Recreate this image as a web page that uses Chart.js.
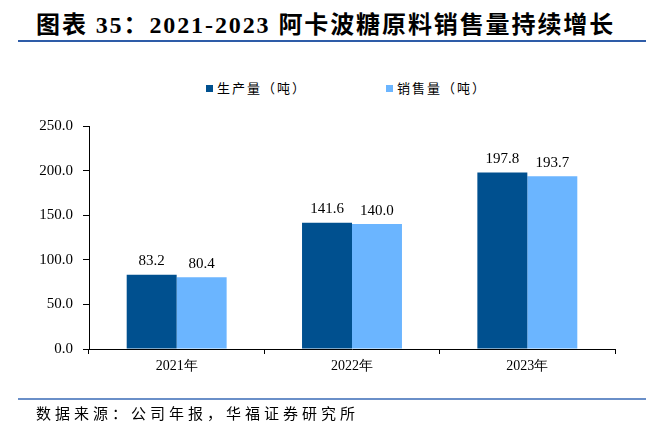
<!DOCTYPE html>
<html>
<head>
<meta charset="utf-8">
<script src="https://cdn.jsdelivr.net/npm/chart.js@4.4.1/dist/chart.umd.min.js"></script>
<style>
    body { margin: 0; width: 655px; height: 434px; background: #fff; position: relative; overflow: hidden; }
    #titre { position: absolute; left: 36px; top: 5px; font-family: "Liberation Serif", "Noto Sans CJK SC", serif; font-weight: bold; font-size: 24px; letter-spacing: 1.9px; color: #000; white-space: nowrap; }
    #ligne-haut { position: absolute; left: 18px; top: 40px; width: 628px; height: 1.5px; background: #2E5CA8; }
    #ligne-bas { position: absolute; left: 18px; top: 398px; width: 628px; height: 2px; background: #6A8FC8; }
    #source { position: absolute; left: 36px; top: 402px; font-family: "Noto Sans CJK SC", sans-serif; font-size: 15px; letter-spacing: 4px; color: #000; white-space: nowrap; }
    .legende { position: absolute; top: 78px; font-family: "Noto Sans CJK SC", sans-serif; font-size: 13px; letter-spacing: 2px; color: #000; white-space: nowrap; }
    .legende span { display: inline-block; width: 7px; height: 7px; margin-right: 4px; vertical-align: 1px; }
    #zone { position: absolute; left: 0; top: 0; width: 655px; height: 434px; }
</style>
</head>
<body>
<div id="titre">图表 35：2021-2023 阿卡波糖原料销售量持续增长</div>
<div id="ligne-haut"></div>
<div class="legende" style="left:206px"><span style="background:#00508F"></span>生产量（吨）</div>
<div class="legende" style="left:386px"><span style="background:#6BB5FF"></span>销售量（吨）</div>
<div id="zone"><canvas id="chart-acarbose" width="655" height="434"></canvas></div>
<div id="ligne-bas"></div>
<div id="source">数据来源：公司年报，华福证券研究所</div>

<script>
const annees = ["2021年", "2022年", "2023年"];
const production = [83.2, 141.6, 197.8];
const ventes = [80.4, 140.0, 193.7];
const graduations = [0, 50, 100, 150, 200, 250];

const policeSerif = "'Liberation Serif', 'Times New Roman', serif";

// valeurs au-dessus des barres
const etiquettesValeurs = {
    id: "etiquettesValeurs",
    afterDatasetsDraw(chart) {
        const ctx = chart.ctx;
        ctx.save();
        ctx.font = "15px " + policeSerif;
        ctx.fillStyle = "#000";
        ctx.textAlign = "center";
        ctx.textBaseline = "bottom";
        chart.data.datasets.forEach((ds, i) => {
            chart.getDatasetMeta(i).data.forEach((bar, j) => {
                ctx.fillText(ds.data[j].toFixed(1), bar.x, bar.y - 6);
            });
        });
        ctx.restore();
    }
};

new Chart(document.getElementById("chart-acarbose"), {
    type: "bar",
    data: {
        labels: annees,
        datasets: [
            { label: "生产量（吨）", data: production, backgroundColor: "#00508F" },
            { label: "销售量（吨）", data: ventes, backgroundColor: "#6BB5FF" }
        ]
    },
    options: {
        responsive: false,
        animation: false,
        devicePixelRatio: 1,
        layout: { padding: { left: 0, right: 40, top: 126, bottom: 0 } },
        plugins: { legend: { display: false }, tooltip: { enabled: false } },
        datasets: { bar: { categoryPercentage: 0.57, barPercentage: 1.0 } },
        scales: {
            x: {
                grid: { display: true, drawOnChartArea: false, offset: true, color: "#000", tickLength: 5 },
                border: { color: "#000", width: 1 },
                ticks: { color: "#000", font: { family: policeSerif, size: 14 }, padding: 4 },
                afterFit(scale) { scale.height = 85; }
            },
            y: {
                min: 0,
                max: 250,
                afterBuildTicks(scale) { scale.ticks = graduations.map(v => ({ value: v })); },
                grid: { display: true, drawOnChartArea: false, color: "#000", tickLength: 6 },
                border: { color: "#000", width: 1 },
                ticks: {
                    color: "#000",
                    font: { family: policeSerif, size: 15 },
                    padding: 10,
                    callback: (v) => Number(v).toFixed(1)
                },
                afterFit(scale) { scale.width = 89; }
            }
        }
    },
    plugins: [etiquettesValeurs]
});
</script>
</body>
</html>
